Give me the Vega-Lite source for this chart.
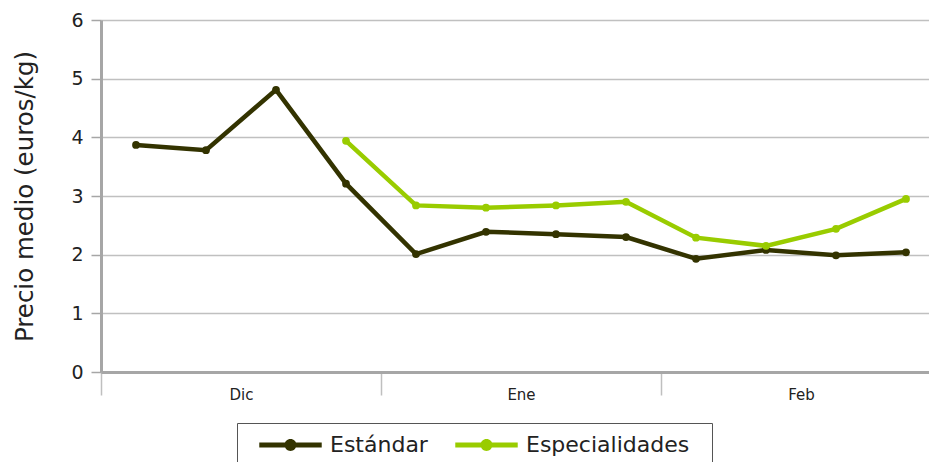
{
  "$schema": "https://vega.github.io/schema/vega-lite/v6.json",
  "autosize": "none",
  "width": 828,
  "height": 352,
  "padding": {"left": 101, "top": 20, "right": 0, "bottom": 90},
  "background": "white",
  "config": {
    "view": {"stroke": null},
    "font": "DejaVu Sans"
  },
  "data": {
    "values": [
      {"t": 0.5, "serie": "Estándar", "precio": 3.87},
      {"t": 1.5, "serie": "Estándar", "precio": 3.78},
      {"t": 2.5, "serie": "Estándar", "precio": 4.81},
      {"t": 3.5, "serie": "Estándar", "precio": 3.21},
      {"t": 4.5, "serie": "Estándar", "precio": 2.01},
      {"t": 5.5, "serie": "Estándar", "precio": 2.39},
      {"t": 6.5, "serie": "Estándar", "precio": 2.35},
      {"t": 7.5, "serie": "Estándar", "precio": 2.30},
      {"t": 8.5, "serie": "Estándar", "precio": 1.93},
      {"t": 9.5, "serie": "Estándar", "precio": 2.08},
      {"t": 10.5, "serie": "Estándar", "precio": 1.99},
      {"t": 11.5, "serie": "Estándar", "precio": 2.04},
      {"t": 3.5, "serie": "Especialidades", "precio": 3.94},
      {"t": 4.5, "serie": "Especialidades", "precio": 2.84},
      {"t": 5.5, "serie": "Especialidades", "precio": 2.80},
      {"t": 6.5, "serie": "Especialidades", "precio": 2.84},
      {"t": 7.5, "serie": "Especialidades", "precio": 2.90},
      {"t": 8.5, "serie": "Especialidades", "precio": 2.29},
      {"t": 9.5, "serie": "Especialidades", "precio": 2.15},
      {"t": 10.5, "serie": "Especialidades", "precio": 2.44},
      {"t": 11.5, "serie": "Especialidades", "precio": 2.95}
    ]
  },
  "encoding": {
    "x": {
      "field": "t",
      "type": "quantitative",
      "scale": {"domain": [0, 11.8286], "nice": false, "zero": false},
      "axis": {
        "title": null,
        "values": [0, 2, 4, 6, 8, 10],
        "labelExpr": "datum.value == 2 ? 'Dic' : datum.value == 6 ? 'Ene' : datum.value == 10 ? 'Feb' : ''",
        "grid": false,
        "domainColor": "#a6a6a6",
        "domainWidth": 3,
        "tickColor": "#bfbfbf",
        "tickWidth": 1.5,
        "tickSize": 23,
        "tickOpacity": {"condition": {"test": "datum.value % 4 == 0", "value": 1}, "value": 0},
        "labelPadding": -8,
        "labelFontSize": 15,
        "labelColor": "#222222",
        "labelFlush": false,
        "labelOverlap": false
      }
    },
    "y": {
      "field": "precio",
      "type": "quantitative",
      "scale": {"domain": [0, 6], "nice": false},
      "axis": {
        "title": "Precio medio (euros/kg)",
        "titleFontSize": 24.5,
        "titleFontWeight": "normal",
        "titleColor": "#222222",
        "titlePadding": 33,
        "values": [0, 1, 2, 3, 4, 5, 6],
        "grid": true,
        "gridColor": "#c0c0c0",
        "gridWidth": 1.5,
        "domainColor": "#a6a6a6",
        "domainWidth": 3,
        "tickColor": "#a6a6a6",
        "tickWidth": 1.5,
        "tickSize": 10,
        "labelPadding": 8,
        "labelFontSize": 19,
        "labelColor": "#222222"
      }
    },
    "color": {
      "field": "serie",
      "type": "nominal",
      "scale": {"domain": ["Estándar", "Especialidades"], "range": ["#333300", "#99cc00"]},
      "legend": {
        "title": null,
        "orient": "none",
        "legendX": 136,
        "legendY": 403,
        "direction": "horizontal",
        "strokeColor": "#555555",
        "fillColor": "white",
        "padding": 22,
        "symbolType": "M-1,-0.08L1,-0.08L1,0.08L-1,0.08Z M0.19,0 A0.19,0.19 0 1,1 -0.19,0 A0.19,0.19 0 1,1 0.19,0Z",
        "symbolSize": 3900,
        "symbolStrokeWidth": 0,
        "labelFontSize": 22,
        "labelLimit": 400,
        "labelColor": "#222222",
        "labelOffset": 8,
        "columnPadding": 27,
        "encode": {
          "symbols": {"update": {"fill": {"scale": "color", "field": "value"}, "strokeWidth": {"value": 0}, "y": {"value": 0}}},
          "labels": {"update": {"y": {"value": 0}}}
        }
      }
    }
  },
  "layer": [
    {"mark": {"type": "line", "strokeWidth": 4.5}},
    {"mark": {"type": "point", "filled": true, "size": 60, "opacity": 1}}
  ]
}
